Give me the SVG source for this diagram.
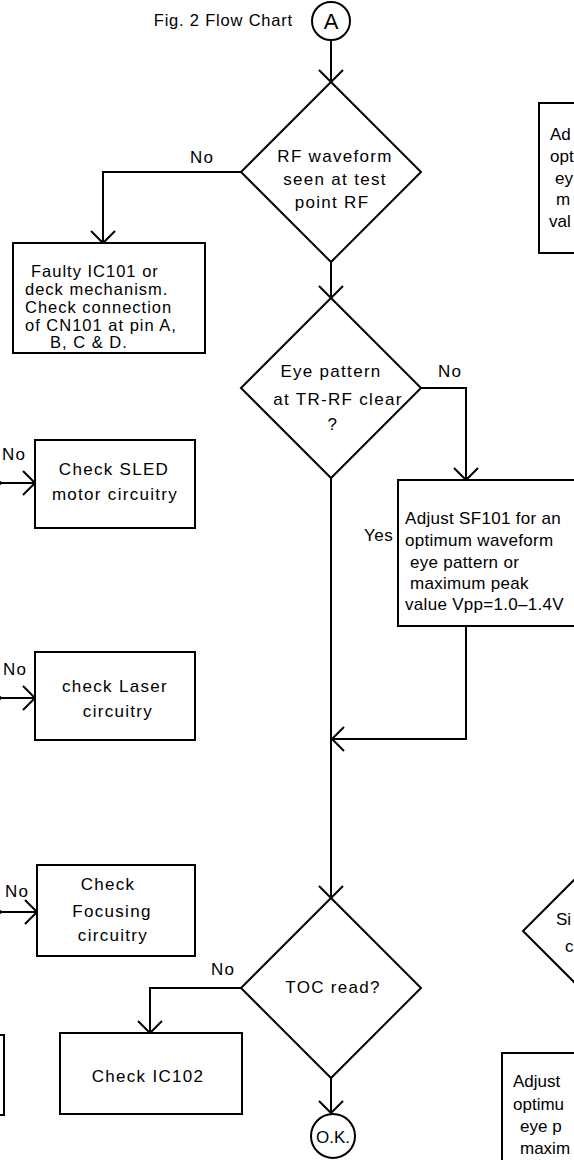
<svg xmlns="http://www.w3.org/2000/svg" width="574" height="1160" viewBox="0 0 574 1160">
<style>
  .s{fill:none;stroke:#000;stroke-width:2}
  .n{fill:#fff;stroke:#000;stroke-width:2}
  text{font-family:"Liberation Sans",Arial,sans-serif;font-size:17px;letter-spacing:1.3px;fill:#000}
  .m{text-anchor:middle}
  .t{font-size:16.5px;letter-spacing:1px}
  .a{letter-spacing:0.3px}
  .c{letter-spacing:0}
</style>
<defs>
  <marker id="ah" markerUnits="userSpaceOnUse" markerWidth="30" markerHeight="30" viewBox="-15 -15 30 30" refX="0" refY="0" orient="auto" overflow="visible">
    <path d="M-12,-12 L0,0 L-12,12" fill="none" stroke="#000" stroke-width="2"/>
  </marker>
</defs>
<rect width="574" height="1160" fill="#fff"/>

<g id="connectors" class="s">
  <path d="M331,40 V82" marker-end="url(#ah)"/>
  <path d="M241,172 H103 V243" marker-end="url(#ah)"/>
  <path d="M331,262 V298" marker-end="url(#ah)"/>
  <path d="M421,388 H466 V480" marker-end="url(#ah)"/>
  <path d="M331,478 V898" marker-end="url(#ah)"/>
  <path d="M466,626 V739 H332" marker-end="url(#ah)"/>
  <path d="M241,988 H150 V1033" marker-end="url(#ah)"/>
  <path d="M331,1078 V1113" marker-end="url(#ah)"/>
  <path d="M0,483 H35" marker-end="url(#ah)"/>
  <path d="M0,698 H35" marker-end="url(#ah)"/>
  <path d="M0,912 H37" marker-end="url(#ah)"/>
</g>

<g id="title"><text x="293" y="26" style="text-anchor:end;font-size:16.5px;letter-spacing:0.8px">Fig. 2 Flow Chart</text></g>

<g id="start">
  <circle class="n" cx="331" cy="21" r="19"/>
  <text class="m" x="331" y="29" style="font-size:22px;letter-spacing:0">A</text>
</g>

<g id="d-rf">
  <polygon class="n" points="331,82 421,172 331,262 241,172"/>
  <text class="m" x="335" y="162">RF waveform</text>
  <text class="m" x="335" y="185">seen at test</text>
  <text class="m" x="332" y="208">point RF</text>
  <text x="190" y="163">No</text>
</g>

<g id="b-faulty">
  <rect class="n" x="13" y="243" width="192" height="110"/>
  <text class="t" x="31" y="277">Faulty IC101 or</text>
  <text class="t" x="25" y="295">deck mechanism.</text>
  <text class="t" x="25" y="313">Check connection</text>
  <text class="t" x="25" y="331">of CN101 at pin A,</text>
  <text class="t" x="50" y="348">B, C &amp; D.</text>
</g>

<g id="d-eye">
  <polygon class="n" points="331,298 421,388 331,478 241,388"/>
  <text class="m" x="331" y="377">Eye pattern</text>
  <text class="m" x="338" y="405">at TR-RF clear</text>
  <text class="m" x="333" y="430">?</text>
  <text x="438" y="377">No</text>
  <text x="364" y="541" style="letter-spacing:0.5px">Yes</text>
</g>

<g id="b-adjust">
  <rect class="n" x="398" y="480" width="200" height="146"/>
  <text class="a" x="405" y="524">Adjust SF101 for an</text>
  <text class="a" x="405" y="546">optimum waveform</text>
  <text class="a" x="410" y="568">eye pattern or</text>
  <text class="a" x="410" y="589">maximum peak</text>
  <text class="a" x="405" y="610">value Vpp=1.0–1.4V</text>
</g>

<g id="b-adjust-top">
  <rect class="n" x="539" y="103" width="60" height="150"/>
  <text class="c" x="550" y="140">Ad</text>
  <text class="c" x="550" y="162">opt</text>
  <text class="c" x="555" y="184">ey</text>
  <text class="c" x="556" y="205">m</text>
  <text class="c" x="549" y="227">val</text>
</g>

<g id="b-sled">
  <polyline class="s" points="-10,473 1,483 -10,493"/>
  <text x="2" y="460">No</text>
  <rect class="n" x="35" y="440" width="160" height="88"/>
  <text class="m" x="114" y="475">Check SLED</text>
  <text class="m" x="115" y="500">motor circuitry</text>
</g>

<g id="b-laser">
  <polyline class="s" points="-10,688 1,698 -10,708"/>
  <text x="3" y="675">No</text>
  <rect class="n" x="35" y="652" width="160" height="88"/>
  <text class="m" x="115" y="692">check Laser</text>
  <text class="m" x="118" y="717">circuitry</text>
</g>

<g id="b-focus">
  <polyline class="s" points="-10,902 1,912 -10,922"/>
  <text x="5" y="897">No</text>
  <rect class="n" x="37" y="865" width="158" height="91"/>
  <text class="m" x="108" y="890">Check</text>
  <text class="m" x="112" y="917">Focusing</text>
  <text class="m" x="113" y="941">circuitry</text>
</g>

<g id="d-toc">
  <polygon class="n" points="331,898 421,988 331,1078 241,988"/>
  <text class="m" x="333" y="993">TOC read?</text>
  <text x="211" y="975">No</text>
</g>

<g id="b-ic102">
  <rect class="n" x="60" y="1033" width="182" height="81"/>
  <text class="m" x="148" y="1082">Check IC102</text>
</g>

<g id="b-left-bottom">
  <rect class="n" x="-100" y="1035" width="104" height="80"/>
</g>

<g id="end">
  <circle class="n" cx="333" cy="1136" r="22"/>
  <text class="m" x="333" y="1143" style="letter-spacing:0">O.K.</text>
</g>

<g id="d-right">
  <polygon class="n" points="613,841 703,931 613,1021 523,931"/>
  <text class="c" x="556" y="925">Si</text>
  <text class="c" x="565" y="952">c</text>
</g>

<g id="b-adjust-bottom">
  <rect class="n" x="502" y="1053" width="120" height="150"/>
  <text class="c" x="513" y="1087">Adjust</text>
  <text class="c" x="513" y="1110">optimu</text>
  <text class="c" x="520" y="1132">eye p</text>
  <text class="c" x="520" y="1154">maxim</text>
</g>
</svg>
